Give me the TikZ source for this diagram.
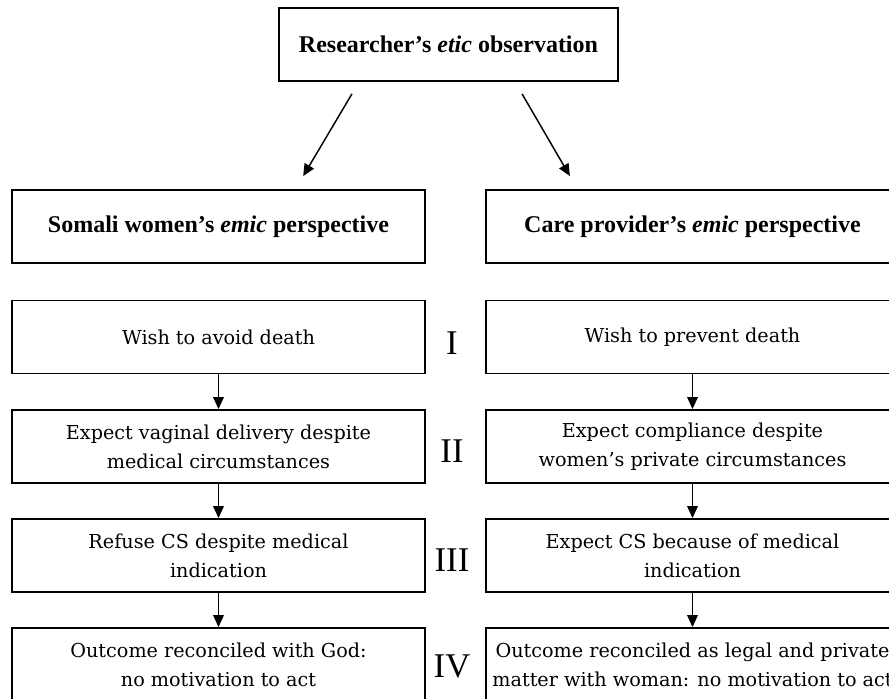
\documentclass[tikz,border=0pt]{standalone}
\usepackage{fontspec}
\setmainfont{DejaVu Serif}
\newfontfamily\headfont{Liberation Serif}
\usetikzlibrary{arrows.meta}

\tikzset{
  box/.style={draw, line width=1.4pt, minimum width=309.75pt, minimum height=54.75pt,
    inner sep=0pt, align=center, font=\fontsize{14.4}{21.75}\selectfont},
  headbox/.style={box, font=\headfont\bfseries\fontsize{18}{22}\selectfont},
  numlabel/.style={inner sep=0pt, font=\headfont\fontsize{26}{26}\selectfont},
  arr/.style={-{Triangle[length=9pt,width=8pt]}, line width=1.1pt},
}

\begin{document}
\begin{tikzpicture}[x=0.75pt, y=-0.75pt]
  \useasboundingbox (0,0) rectangle (889,699);

  % researcher on top
  \node[headbox, minimum width=254.25pt] (etic) at (448.5,44.5) {Researcher’s \textit{etic} observation};

  % the two perspectives
  \node[headbox] (somali) at (218.5,226.5) {Somali women’s \textit{emic} perspective};
  \node[headbox] (care) at (692.5,226.5) {Care provider’s \textit{emic} perspective};

  % left column
  \node[box] (wavoid) at (218.5,337) {Wish to avoid death};
  \node[box] (vagdel) at (218.5,446.5) {Expect vaginal delivery despite\\medical circumstances};
  \node[box] (refuse) at (218.5,555.5) {Refuse CS despite medical\\indication};
  \node[box] (godout) at (218.5,664.5) {Outcome reconciled with God:\\no motivation to act};

  % right column
  \node[box] (wprev) at (692.5,337) {Wish to prevent death};
  \node[box] (compl) at (692.5,446.5) {Expect compliance despite\\women’s private circumstances};
  \node[box] (expcs) at (692.5,555.5) {Expect CS because of medical\\indication};
  \node[box] (legout) at (692.5,664.5) {Outcome reconciled as legal and private\\matter with woman: no motivation to act};

  % levels
  \node[numlabel] (lvlI) at (452,343) {I};
  \node[numlabel] (lvlII) at (452,451) {II};
  \node[numlabel] (lvlIII) at (452,560) {III};
  \node[numlabel] (lvlIV) at (452,666) {IV};

  % arrows
  \draw[arr, shorten <=10.4pt, shorten >=11.3pt] ([xshift=-67.1pt]etic.south) -- ([xshift=57.75pt]somali.north);
  \draw[arr, shorten <=10.4pt, shorten >=11.3pt] ([xshift=49.95pt]etic.south) -- ([xshift=-86.3pt]care.north);

  \draw[arr] (wavoid) -- (vagdel);
  \draw[arr] (vagdel) -- (refuse);
  \draw[arr] (refuse) -- (godout);
  \draw[arr] (wprev) -- (compl);
  \draw[arr] (compl) -- (expcs);
  \draw[arr] (expcs) -- (legout);
\end{tikzpicture}
\end{document}
